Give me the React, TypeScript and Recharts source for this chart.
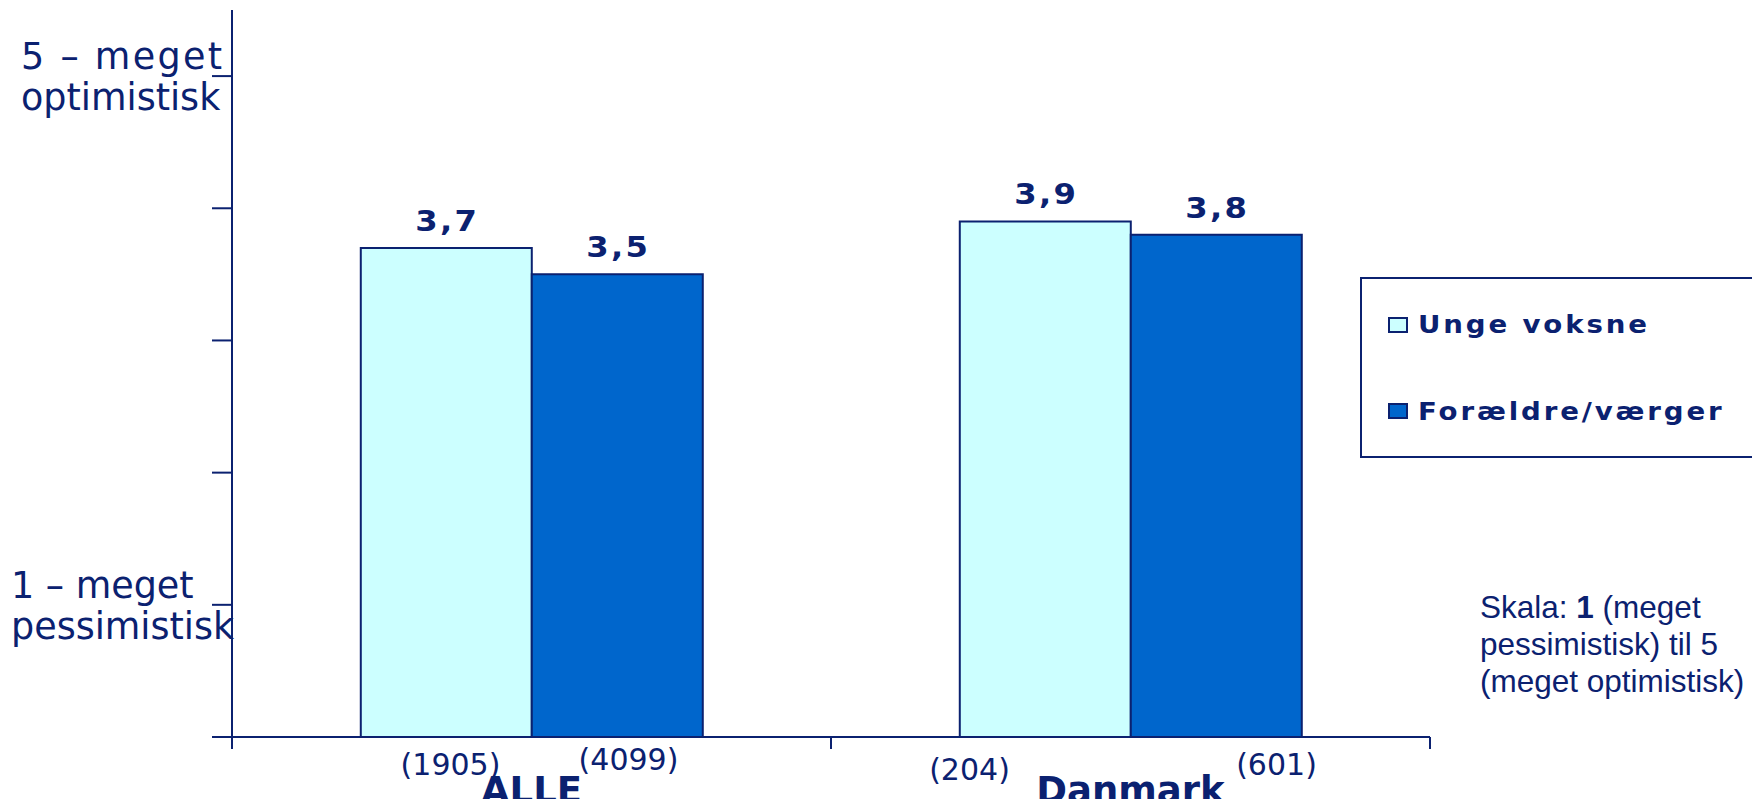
import { BarChart, Bar, XAxis, YAxis, Legend, LabelList } from "recharts";

const categories = ["ALLE", "Danmark"];
const ungeVoksne = [3.7, 3.9];
const foraeldre = [3.5, 3.8];
const ungeN = [1905, 204];
const foraeldreN = [4099, 601];
const seriesNames = ["Unge voksne", "Forældre/værger"];
const yTicks = [0, 1, 2, 3, 4, 5];
const yTickLabels: Record<number, string[]> = {
  1: ["1 – meget", "pessimistisk"],
  5: ["5 – meget", "optimistisk"],
};

const data = categories.map((name, i) => ({
  name,
  unge: ungeVoksne[i],
  foraeldre: foraeldre[i],
}));

const NAVY = "#0b2170";
const LIGHT = "#ccffff";
const DARK = "#0066cc";

const W = 1752;
const H = 799;
const margin = { top: 10, right: 322, bottom: 0, left: 0 };
const Y_AXIS_W = 232;
const X_AXIS_H = 62;
const band = (W - margin.left - margin.right - Y_AXIS_W) / categories.length;

// the (n) labels sit a bit off the bars in the original, so nudge them per bar
const nOffsets = [
  [[-81, 38], [97, 33]],
  [[-161, 43], [146, 38]],
];

function ScaleTick(props: any) {
  const { x, y, payload } = props;
  const lines = yTickLabels[payload.value];
  if (!lines) return null;
  const left = payload.value === 5 ? x - 191 : x - 201;
  return (
    <g>
      <text
        x={left}
        y={y - 7}
        fontSize={36.5}
        fill={NAVY}
        textLength={payload.value === 5 ? 201 : undefined}
        lengthAdjust="spacing"
      >
        {lines[0]}
      </text>
      <text x={left} y={y + 34} fontSize={36.5} fill={NAVY}>
        {lines[1]}
      </text>
    </g>
  );
}

function CategoryTick(props: any) {
  const { x, y, payload } = props;
  const i = categories.indexOf(payload.value);
  const ns = [ungeN[i], foraeldreN[i]];
  return (
    <g>
      {i === 0 && (
        <line x1={x - band / 2} x2={x - band / 2} y1={y} y2={y + 12} stroke={NAVY} strokeWidth={2} />
      )}
      <line x1={x + band / 2} x2={x + band / 2} y1={y} y2={y + 12} stroke={NAVY} strokeWidth={2} />
      {ns.map((n, j) => (
        <text
          key={j}
          x={x + nOffsets[i][j][0]}
          y={y + nOffsets[i][j][1]}
          textAnchor="middle"
          fontSize={30}
          fill={NAVY}
        >
          ({n})
        </text>
      ))}
      <text x={x} y={y + 66} textAnchor="middle" fontSize={37} fontWeight="bold" fill={NAVY}>
        {payload.value}
      </text>
    </g>
  );
}

function ValueLabel(props: any) {
  const { x, y, width, value } = props;
  return (
    <text
      transform={`translate(${x + width / 2 + 1},${y - 17}) scale(1.15,1)`}
      textAnchor="middle"
      fontSize={28}
      fontWeight="bold"
      letterSpacing={2}
      fill={NAVY}
    >
      {Number(value).toFixed(1).replace(".", ",")}
    </text>
  );
}

function LegendBox() {
  const fills = [LIGHT, DARK];
  return (
    <svg width={420} height={182} style={{ display: "block" }}>
      <rect x={1} y={1} width={430} height={179} fill="#fff" stroke={NAVY} strokeWidth={2} />
      {seriesNames.map((name, i) => (
        <g key={name}>
          <rect x={29} y={41 + i * 86} width={18} height={14} fill={fills[i]} stroke={NAVY} strokeWidth={2} />
          <text
            transform={`translate(58,${56 + i * 87}) scale(1.15,1)`}
            fontSize={24}
            fontWeight="bold"
            letterSpacing={2.5}
            fill={NAVY}
            fontFamily="DejaVu Sans"
          >
            {name}
          </text>
        </g>
      ))}
    </svg>
  );
}

export default function App() {
  return (
    <div
      style={{
        position: "absolute",
        left: 0,
        top: 0,
        width: W,
        height: H,
        overflow: "hidden",
        background: "#fff",
        fontFamily: "DejaVu Sans",
      }}
    >
      <BarChart width={W} height={H} data={data} margin={margin} barCategoryGap="21.5%" barGap={0}>
        <XAxis
          dataKey="name"
          height={X_AXIS_H}
          axisLine={{ stroke: NAVY, strokeWidth: 2 }}
          tickLine={false}
          tickSize={0}
          tickMargin={0}
          interval={0}
          tick={CategoryTick}
        />
        <YAxis
          width={Y_AXIS_W}
          domain={[0, 5.5]}
          ticks={yTicks}
          interval={0}
          tickSize={20}
          tickMargin={0}
          axisLine={{ stroke: NAVY, strokeWidth: 2 }}
          tickLine={{ stroke: NAVY, strokeWidth: 2 }}
          tick={ScaleTick}
        />
        <Legend
          layout="vertical"
          align="center"
          verticalAlign="middle"
          wrapperStyle={{ left: 1360, top: 277, width: 420, height: 182 }}
          content={LegendBox}
        />
        <Bar dataKey="unge" name={seriesNames[0]} fill={LIGHT} stroke={NAVY} strokeWidth={2} isAnimationActive={false}>
          <LabelList dataKey="unge" content={ValueLabel} />
        </Bar>
        <Bar dataKey="foraeldre" name={seriesNames[1]} fill={DARK} stroke={NAVY} strokeWidth={2} isAnimationActive={false}>
          <LabelList dataKey="foraeldre" content={ValueLabel} />
        </Bar>
      </BarChart>
      <svg
        width={290}
        height={130}
        style={{ position: "absolute", left: 1472, top: 580 }}
        fontFamily="Liberation Sans"
        fontSize={31.5}
        fill={NAVY}
      >
        <text x={8} y={38}>
          Skala: <tspan fontWeight="bold">1</tspan> (meget
        </text>
        <text x={8} y={75}>pessimistisk) til 5</text>
        <text x={8} y={112}>(meget optimistisk)</text>
      </svg>
    </div>
  );
}
